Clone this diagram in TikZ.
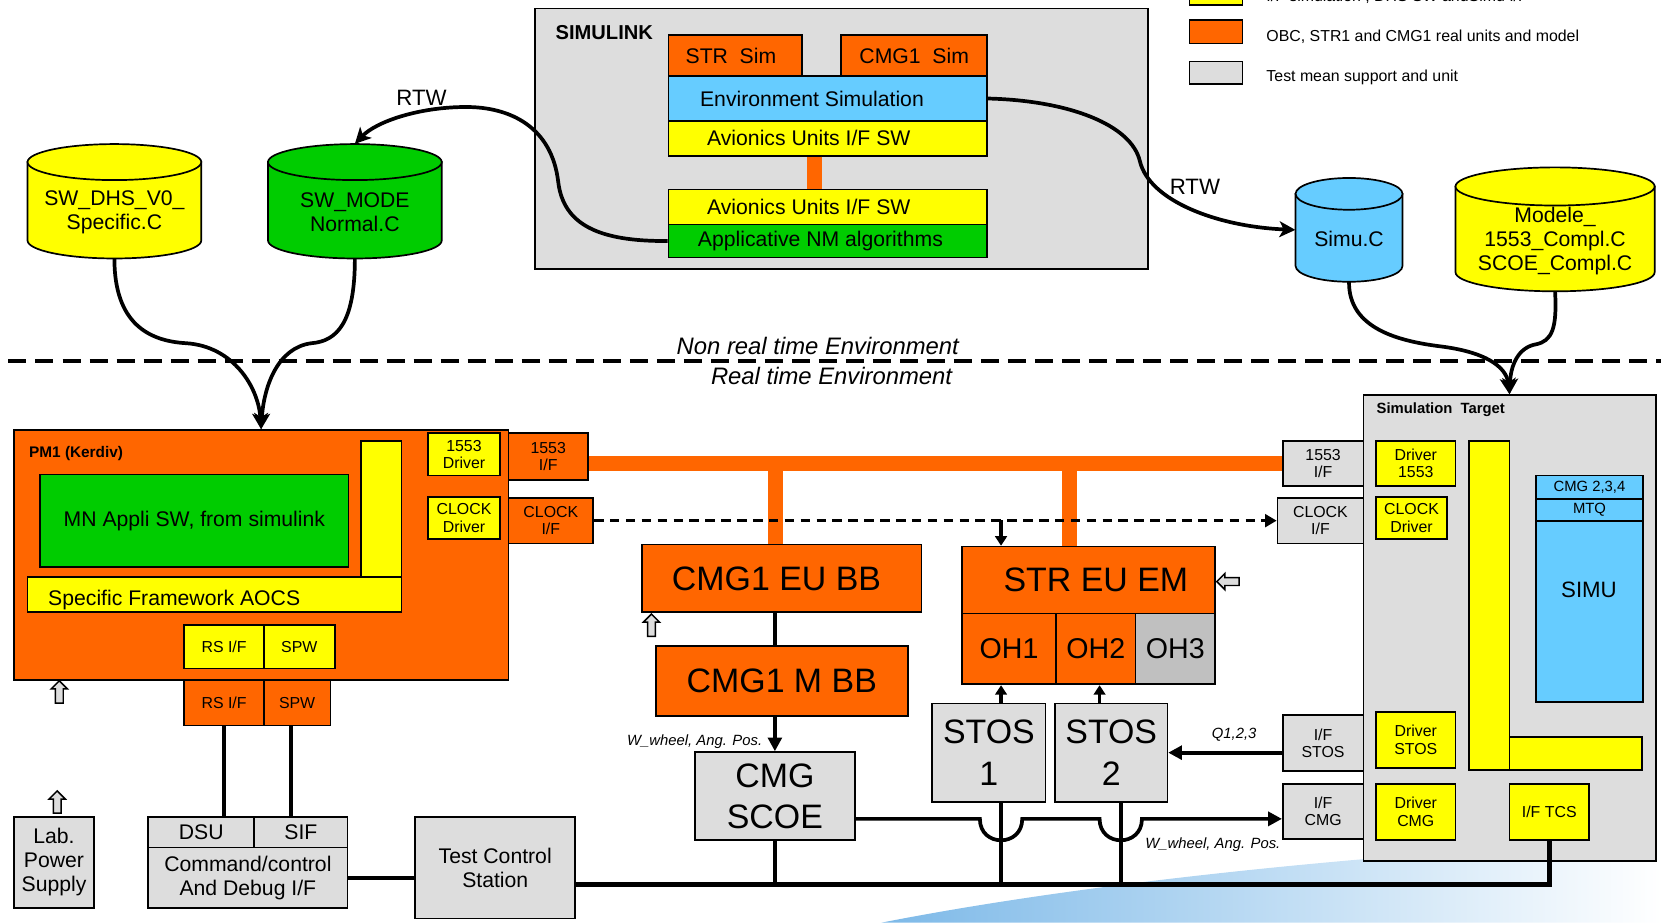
\documentclass[tikz,border=0pt]{standalone}
\usepackage{fontspec}
\setmainfont{Liberation Sans}
\usetikzlibrary{arrows.meta,shapes.arrows,calc}

\definecolor{orng}{HTML}{FF6600}
\definecolor{yel}{HTML}{FFFF00}
\definecolor{grn}{HTML}{00CC00}
\definecolor{sky}{HTML}{66CCFF}
\definecolor{gry}{HTML}{DDDDDD}
\definecolor{gryd}{HTML}{C0C0C0}
\definecolor{swblue}{HTML}{7DB9E8}

\newcommand\fs[2]{\fontsize{#1}{#2}\selectfont}
% box given by its corners
\newcommand\blok[7][]{\node[#1, minimum width={((#5)-(#3))*1pt}, minimum height={((#6)-(#4))*1pt}] (#2) at ({((#3)+(#5))/2},{((#4)+(#6))/2}) {#7};}
% data file cylinder
\newcommand\cyl[8]{%
  \pgfmathsetmacro\cx{((#2)+(#4))/2}%
  \pgfmathsetmacro\ca{((#4)-(#2))/2}%
  \pgfmathsetmacro\cyt{(#3)+(#6)}%
  \pgfmathsetmacro\cyb{(#5)-(#6)}%
  \pgfmathsetmacro\cka{0.5523*\ca}%
  \pgfmathsetmacro\ckr{0.5523*(#6)}%
  \filldraw[cylin, fill=#7] (#2,\cyt) -- (#2,\cyb)
     .. controls (#2,\cyb+\ckr) and (\cx-\cka,#5) .. (\cx,#5)
     .. controls (\cx+\cka,#5) and (#4,\cyb+\ckr) .. (#4,\cyb) -- (#4,\cyt) -- cycle;
  \filldraw[cylin, fill=#7] (\cx,\cyt) ellipse [x radius=\ca, y radius=#6];
  \node[inner sep=0pt, minimum width={((#4)-(#2))*1pt}, minimum height={((#5)-(#3))*1pt}] (#1) at (\cx,{((#3)+(#5))/2}) {};
  \node[mid, align=center] (#1-t) at ([yshift={-0.6*(#6)}]#1.center) {#8};
}

\tikzset{
  box/.style={draw, line width=1.6pt, inner sep=1pt, align=center},
  obox/.style={box, fill=orng},
  ybox/.style={box, fill=yel},
  gbox/.style={box, fill=gry},
  bbox/.style={box, fill=sky},
  nbox/.style={box, fill=grn},
  cylin/.style={line width=1.6pt},
  wire/.style={line width=3.5pt},
  bus/.style={line width=14pt, orng},
  arr/.style={wire, -{Triangle[length=13pt,width=13pt]}},
  sarr/.style={line width=3pt, -{Triangle[length=9pt,width=11pt]}},
  rtw/.style={wire, -{Stealth[length=15pt,width=15pt,inset=4pt]}},
  hollow/.style={single arrow, draw, fill=gry, line width=1.4pt, inner sep=3pt,
    single arrow head extend=4pt, minimum height=21pt},
  small/.style={font=\fs{15}{16.5}},
  mid/.style={font=\fs{20}{22.5}},
  big/.style={font=\fs{32}{39}},
  lgd/.style={font=\fs{15}{17}, anchor=west},
  lbl/.style={font=\itshape\fs{14}{16}},
}

\begin{document}
\begin{tikzpicture}[x=1pt,y=-1pt] % ------ AOCS test bench ----------------
  \useasboundingbox (0,0) rectangle (1568,871);
  \shade[left color=swblue, right color=white] (832,871) .. controls (1000,838) and (1250,808) .. (1568,792) -- (1568,871) -- cycle;

  % legend
  \blok[box, fill=yel]{lgY}{1123}{-12}{1173}{5}{}
  \node[lgd] (lgYt) at (1192,-3) {I/F simulation , DHS SW andSimu I/F};
  \blok[obox]{lgO}{1123}{19}{1173}{41}{}
  \node[lgd] (lgOt) at (1192,35) {OBC, STR1 and CMG1 real units and model};
  \blok[gbox]{lgG}{1123}{58}{1173}{79}{}
  \node[lgd] (lgGt) at (1192,73) {Test mean support and unit};

  % simulink
  \blok[gbox]{slk}{505}{8}{1084}{254}{}
  \node[anchor=west, font=\bfseries\fs{19}{21}] (slkt) at (521,31) {SIMULINK};
  \blok[obox, mid]{strsim}{631}{33}{757}{72}{STR\ \ Sim\hspace*{8pt}}
  \blok[obox, mid]{cmgsim}{794}{33}{932}{72}{CMG1\ \ Sim}
  \blok[bbox, mid]{env}{631}{72}{932}{114}{Environment Simulation\hspace*{30pt}}
  \blok[ybox, mid]{av1}{631}{114}{932}{147}{Avionics Units I/F SW\hspace*{36pt}}
  \draw[bus] ([xshift=-13pt]av1.south) -- ([xshift=-13pt,yshift=-32pt]av1.south);
  \blok[ybox, mid]{av2}{631}{179}{932}{212}{Avionics Units I/F SW\hspace*{36pt}}
  \blok[nbox, mid]{appl}{631}{212}{932}{243}{Applicative NM algorithms\hspace*{14pt}}

  \cyl{dhs}{26}{136}{190}{244}{17}{yel}{SW\_DHS\_V0\_\\Specific.C}
  \cyl{nm}{253}{136}{417}{244}{17}{grn}{SW\_MODE\\Normal.C}
  \cyl{simuc}{1223}{168}{1324}{266}{15}{sky}{Simu.C}
  \cyl{mod}{1374}{158}{1562}{275}{18}{yel}{Modele\_\\1553\_Compl.C\\SCOE\_Compl.C}

  \node[font=\fs{21}{23}] (rtwL) at (398,92) {RTW};
  \node[font=\fs{21}{23}] (rtwR) at (1128,176) {RTW};
  \draw[rtw] (appl.west) .. controls (565,228) and (532,212) .. (527,172)
     .. controls (521,120) and (482,101) .. (440,101) .. controls (395,101) and (355,115) .. (nm.north);
  \draw[rtw] (env.east) .. controls (1010,95) and (1068,118) .. (1076,152)
     .. controls (1085,190) and (1150,214) .. (simuc.west);

  % environment limit
  \coordinate (sepL) at (8,341);
  \coordinate (sepR) at (1568,341);
  \draw[line width=4pt, dash pattern=on 17pt off 8.5pt] (sepL) -- (sepR);
  \node[font=\itshape\fs{22.5}{24}] (nrt) at (772,327) {Non real time Environment};
  \node[font=\itshape\fs{22.5}{24}] (rt) at (785,355) {Real time Environment};

  % PM1
  \blok[obox]{pm}{13}{406}{480}{642}{}
  \node[anchor=west, font=\bfseries\fs{14.5}{16}] (pmt) at (24,428) {PM1 (Kerdiv)};
  \blok[nbox, mid]{mn}{38}{448}{329}{535}{MN Appli SW, from simulink}
  \blok[ybox]{fwv}{341}{416}{379}{545}{}
  \blok[ybox]{fw}{26}{545}{379}{578}{}
  \node[mid, anchor=west] (fwt) at (42,566) {Specific Framework AOCS};
  \blok[ybox, small]{drv1553}{404}{409}{472}{449}{1553\\Driver}
  \blok[ybox, small]{drvclk}{404}{469}{472}{509}{CLOCK\\Driver}
  \blok[ybox, small]{rsin}{174}{590}{249}{631}{RS I/F}
  \blok[ybox, small]{spwin}{249}{590}{316}{631}{SPW}
  \blok[obox, small]{rsout}{174}{642}{249}{685}{RS I/F}
  \blok[obox, small]{spwout}{249}{642}{312}{685}{SPW}
  \blok[obox, small]{if1553L}{480}{409}{555}{453}{1553\\I/F}
  \blok[obox, small]{clkL}{480}{470}{560}{513}{CLOCK\\I/F}
  \node[hollow, rotate=90] (pmA) at (56,655) {};

  \draw[rtw] (dhs.south) .. controls (108,305) and (140,322) .. (176,324)
     .. controls (220,327) and (244,365) .. (pm.north);
  \draw[rtw] (nm.south) .. controls (335,305) and (318,322) .. (294,324)
     .. controls (262,328) and (249,365) .. (pm.north);

  % simulation target
  \blok[gbox]{tgt}{1287}{373}{1563}{813}{}
  \node[anchor=west, font=\bfseries\fs{14}{16}] (tgtt) at (1296,387) {Simulation\ \ Target};
  \blok[gbox, small]{if1553R}{1211}{416}{1287}{459}{1553\\I/F}
  \blok[gbox, small]{clkR}{1206}{470}{1287}{513}{CLOCK\\I/F}
  \blok[gbox, small]{ifstos}{1211}{675}{1287}{728}{I/F\\STOS}
  \blok[gbox, small]{ifcmg}{1211}{740}{1287}{792}{I/F\\CMG}
  \blok[ybox, small]{tdrv1553}{1299}{416}{1374}{459}{Driver\\1553}
  \blok[ybox, small]{tdrvclk}{1299}{469}{1366}{509}{CLOCK\\Driver}
  \blok[ybox, small]{tdrvstos}{1299}{672}{1374}{725}{Driver\\STOS}
  \blok[ybox, small]{tdrvcmg}{1299}{740}{1374}{793}{Driver\\CMG}
  \blok[ybox]{tlv}{1387}{416}{1425}{727}{}
  \blok[ybox]{tlh}{1425}{696}{1550}{727}{}
  \blok[ybox, small]{iftcs}{1425}{740}{1500}{793}{I/F TCS}
  \blok[bbox, font=\fs{14}{15}]{cmg234}{1450}{449}{1551}{471}{CMG 2,3,4}
  \blok[bbox, font=\fs{14}{15}]{mtq}{1450}{471}{1551}{492}{MTQ}
  \blok[bbox]{simub}{1450}{492}{1551}{663}{}
  \node[font=\fs{21}{23}] (simut) at (1500,557) {SIMU};

  \draw[rtw] (simuc.south) .. controls (1273,310) and (1320,322) .. (1360,327)
     .. controls (1400,332) and (1422,345) .. (tgt.north);
  \draw[rtw] (mod.south) .. controls (1470,310) and (1465,322) .. (1450,325)
     .. controls (1433,328) and (1426,345) .. (tgt.north);

  % units
  \blok[obox, big]{cmgeu}{606}{514}{870}{578}{CMG1 EU BB\hspace*{10pt}}
  \blok[obox, big]{cmgm}{619}{610}{857}{676}{CMG1 M BB}
  \blok[gbox, big]{scoe}{656}{710}{807}{793}{CMG\\SCOE}
  \node[hollow, rotate=90] (cmgA) at (615,592) {};
  \blok[obox, big]{streu}{908}{516}{1147}{579}{\hspace*{14pt}STR EU EM}
  \node[hollow, rotate=180] (strA) at (1161,549) {};
  \blok[obox, font=\fs{27}{30}]{oh1}{908}{579}{997}{646}{OH1}
  \blok[obox, font=\fs{27}{30}]{oh2}{997}{579}{1072}{646}{OH2}
  \blok[box, fill=gryd, font=\fs{27}{30}]{oh3}{1072}{579}{1147}{646}{OH3}
  \blok[gbox, big]{stos1}{880}{664}{987}{757}{STOS\\1}
  \blok[gbox, big]{stos2}{996}{664}{1102}{757}{STOS\\2}

  % 1553 bus and clock
  \draw[bus] (if1553L.east |- if1553R.west) -- (if1553R.west);
  \draw[bus] ([xshift=-6pt]cmgeu.north) -- ([xshift=-6pt]cmgeu.north |- if1553R.west);
  \draw[bus] ([xshift=-18pt]streu.north) -- ([xshift=-18pt]streu.north |- if1553R.west);
  \draw[line width=3pt, dash pattern=on 9pt off 6pt, -{Triangle[length=11pt,width=12pt]}] (clkL.east) -- (clkR.west);
  \coordinate (tap) at (945,491);
  \draw[sarr] (tap) -- (tap |- streu.north);

  \draw[wire] (scoe.north |- cmgeu.south) -- (scoe.north |- cmgm.north);
  \draw[arr] (scoe.north |- cmgm.south) -- (scoe.north);
  \node[lbl, anchor=east] (wlab1) at (723,700) {W\_wheel, Ang. Pos.};
  \draw[sarr] ([xshift=11.5pt]stos1.north) -- ([xshift=11.5pt]stos1.north |- oh1.south);
  \draw[sarr] ([xshift=-11pt]stos2.north) -- ([xshift=-11pt]stos2.north |- oh2.south);
  \draw[arr] (ifstos.west |- stos2.east) -- (stos2.east);
  \node[lbl] (qlab) at (1165,694) {Q1,2,3};

  % test bench
  \blok[gbox, mid]{lab}{13}{771}{89}{857}{Lab.\\Power\\Supply}
  \node[hollow, rotate=90] (labA) at (54,759) {};
  \blok[gbox, mid]{dsu}{140}{771}{240}{800}{DSU}
  \blok[gbox, mid]{sif}{240}{771}{328}{800}{SIF}
  \blok[gbox, mid]{cmd}{140}{800}{328}{857}{Command/control\\And Debug I/F}
  \blok[gbox, mid]{tcs}{392}{771}{543}{867}{Test Control\\Station}
  \draw[wire] (rsout.south) -- (rsout.south |- dsu.north);
  \draw[wire] ([xshift=-6pt]spwout.south) -- ([xshift=-6pt]spwout.south |- sif.north);
  \draw[wire] (cmd.east) -- (cmd.east -| tcs.west);
  \coordinate (bus0) at ([yshift=-16pt]tcs.east);
  \draw[line width=4.5pt] (bus0) -| (iftcs.south);
  \draw[wire] (scoe.south) -- (scoe.south |- bus0);
  \draw[wire] ([xshift=11.5pt]stos1.south) -- ([xshift=11.5pt]stos1.south |- bus0);
  \draw[wire] ([xshift=9pt]stos2.south) -- ([xshift=9pt]stos2.south |- bus0);
  \coordinate (w0) at ([yshift=-21.5pt]scoe.east);
  \draw[arr] (w0) -- (925,773) .. controls (925,800) and (965,800) .. (965,773) -- (1038,773)
     .. controls (1038,800) and (1078,800) .. (1078,773) -- (ifcmg.west |- w0);
  \node[lbl] (wlab2) at (1145,797) {W\_wheel, Ang. Pos.};
\end{tikzpicture}
\end{document}
